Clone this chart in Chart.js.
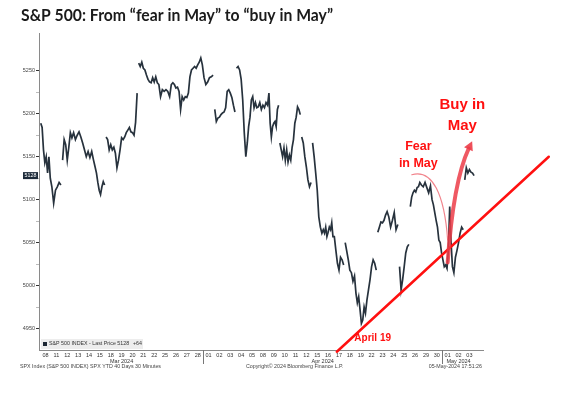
<!DOCTYPE html>
<html>
<head>
<meta charset="utf-8">
<script src="https://cdn.jsdelivr.net/npm/chart.js@4.4.1/dist/chart.umd.min.js"></script>
<style>
    html, body { margin: 0; padding: 0; background: #fff; }
    #wrap { width: 588px; height: 395px; position: relative; }
</style>
</head>
<body>
<div id="wrap"><canvas id="graficoSpx"></canvas></div>
<script>
// Dados
const titulo = 'S&P 500: From \u201cfear in May\u201d to \u201cbuy in May\u201d';
const dayLabels = ['08', '11', '12', '13', '14', '15', '18', '19', '20', '21', '22', '25', '26', '27', '28',
    '01', '02', '03', '04', '05', '08', '09', '10', '11', '12', '15', '16', '17', '18', '19', '22', '23', '24', '25', '26', '29', '30',
    '01', '02', '03'];
const monthLabels = ['Mar 2024', 'Apr 2024', 'May 2024'];
const monthStarts = [0, 15, 37];
const yTicks = [4950, 5000, 5050, 5100, 5150, 5200, 5250];
const lastPrice = 5128;
const lastChange = '+64';

// preços de 30 min, um array por dia
const dayPrices = [
    [5189, 5184, 5158, 5143, 5150, 5131, 5150, 5125],
    [5115, 5096, 5111, 5115, 5120, 5117],
    [5146, 5170, 5164, 5146, 5161, 5178, 5172],
    [5178, 5170, 5175, 5179, 5173, 5166],
    [5158, 5150, 5156, 5149, 5156, 5146],
    [5138, 5131, 5120, 5111, 5106, 5115, 5121, 5117],
    [5173, 5170, 5158, 5164, 5158, 5161, 5154],
    [5137, 5146, 5158, 5172, 5170, 5173, 5178],
    [5181, 5184, 5179, 5178, 5175, 5190, 5224],
    [5259, 5255, 5260, 5253, 5251, 5245, 5240],
    [5237, 5236, 5242, 5237, 5243, 5236, 5234],
    [5220, 5228, 5226, 5228, 5226, 5220],
    [5234, 5236, 5234, 5230, 5231, 5226, 5205],
    [5220, 5216, 5220, 5219, 5224, 5243, 5251],
    [5253, 5255, 5253, 5257, 5260, 5265, 5257],
    [5242, 5234, 5237, 5242, 5243, 5245],
    [5205, 5191, 5195, 5196, 5199, 5201, 5202],
    [5207, 5226, 5228, 5224, 5219, 5210, 5202],
    [5253, 5255, 5251, 5240, 5216, 5178, 5150],
    [5166, 5185, 5196, 5216, 5220, 5207, 5213, 5207],
    [5208, 5213, 5205, 5210, 5207, 5213, 5210],
    [5224, 5189, 5173, 5185, 5189, 5191, 5185, 5205, 5210],
    [5166, 5158, 5150, 5160, 5146, 5158, 5144, 5152],
    [5146, 5161, 5170, 5189, 5196, 5208, 5205, 5199],
    [5173, 5166, 5150, 5138, 5123, 5115, 5120],
    [5166, 5150, 5131, 5111, 5080, 5068, 5061],
    [5065, 5061, 5068, 5057, 5062, 5068, 5065, 5073, 5057],
    [5057, 5041, 5026, 5018, 5033, 5030, 5024],
    [5050, 5040, 5030, 5018, 5015, 5005, 5011],
    [4991, 4980, 4987, 4972, 4956, 4960, 4975, 4968],
    [4983, 4995, 5007, 5022, 5030, 5026, 5018],
    [5062, 5068, 5074, 5073, 5076, 5082, 5086],
    [5080, 5068, 5076, 5085, 5065, 5071],
    [5022, 4995, 5007, 5022, 5038, 5045, 5048],
    [5092, 5103, 5108, 5111, 5109, 5114, 5115, 5120],
    [5117, 5115, 5120, 5114, 5108, 5116],
    [5100, 5094, 5085, 5076, 5068, 5053, 5050, 5038],
    [5030, 5022, 5024, 5020, 5041, 5092, 5050, 5022],
    [5015, 5033, 5041, 5050, 5061, 5068, 5065],
    [5123, 5137, 5131, 5135, 5132, 5131, 5128]
];

// anotações em coordenadas do gráfico (dia, preço)
const tendencia = [[27.3, 4923], [46.8, 5150]];
const curvaMedo = [[34.2, 5129], [36.1, 5136], [37.2, 5106], [37.5, 5053]];
const setaCompra = [[37.5, 5027], [37.9, 5100], [38.6, 5137], [39.75, 5168]];
const textos = [
    { t: 'April 19', x: 30.6, y: 4935, size: 10 },
    { t: 'Fear', x: 34.8, y: 5158, size: 12.5 },
    { t: 'in May', x: 34.8, y: 5138, size: 12.5 },
    { t: 'Buy in', x: 38.85, y: 5205, size: 15 },
    { t: 'May', x: 38.85, y: 5181, size: 15 }
];

const pontos = [];
dayPrices.forEach((dia, i) => {
    dia.forEach((v, j) => pontos.push({ x: i + (j + 0.5) / dia.length, y: v }));
});

const yTicksAll = [];
yTicks.forEach((v, i) => {
    yTicksAll.push(v);
    if (i < yTicks.length - 1) yTicksAll.push(v + 25);
});

const fontePequena = '"Liberation Sans", Arial, sans-serif';

const anotacoes = {
    id: 'anotacoes',
    afterDraw(chart) {
        const { ctx, scales: { x, y }, chartArea: ca } = chart;
        const px = v => x.getPixelForValue(v);
        const py = v => y.getPixelForValue(v);
        ctx.save();

        // título
        ctx.font = 'bold 17px Lato';
        ctx.textAlign = 'left';
        ctx.textBaseline = 'alphabetic';
        const w = ctx.measureText(titulo).width;
        ctx.save();
        ctx.translate(21, 21);
        ctx.scale(312 / w, 1);
        ctx.fillStyle = '#1b1b1b';
        ctx.fillText(titulo, 0, 0);
        ctx.restore();

        // meses e separadores
        ctx.font = '5.5px ' + fontePequena;
        ctx.fillStyle = '#333';
        ctx.textAlign = 'center';
        ctx.textBaseline = 'middle';
        ctx.strokeStyle = '#777';
        ctx.lineWidth = 1;
        monthStarts.forEach((ini, k) => {
            const fim = k + 1 < monthStarts.length ? monthStarts[k + 1] : dayLabels.length;
            ctx.fillText(monthLabels[k], px((ini + fim) / 2), ca.bottom + 11);
            if (k > 0) {
                const sx = Math.round(px(ini)) + 0.5;
                ctx.beginPath();
                ctx.moveTo(sx, ca.bottom);
                ctx.lineTo(sx, ca.bottom + 14);
                ctx.stroke();
            }
        });

        // rodapé
        ctx.font = '5.3px ' + fontePequena;
        ctx.fillStyle = '#444';
        ctx.textAlign = 'left';
        ctx.fillText('SPX Index (S&P 500 INDEX) SPX YTD 40 Days 30 Minutes', 20, ca.bottom + 17);
        ctx.fillText('Copyright\u00a9 2024 Bloomberg Finance L.P.', 246, ca.bottom + 17);
        ctx.textAlign = 'right';
        ctx.fillText('05-May-2024 17:51:26', ca.right - 1, ca.bottom + 17);

        // legenda
        ctx.fillStyle = '#ededed';
        ctx.fillRect(ca.left + 2, ca.bottom - 11, 102, 10);
        ctx.fillStyle = '#1c2733';
        ctx.fillRect(ca.left + 4, ca.bottom - 8, 4, 4);
        ctx.fillStyle = '#333';
        ctx.textAlign = 'left';
        ctx.font = '5.3px ' + fontePequena;
        ctx.fillText('S&P 500 INDEX - Last Price ' + lastPrice, ca.left + 10, ca.bottom - 6);
        ctx.fillText(lastChange, ca.left + 94, ca.bottom - 6);

        // etiqueta do último preço
        const ly = py(lastPrice);
        ctx.fillStyle = '#1d2b3a';
        ctx.fillRect(23, ly - 3.5, 15, 7);
        ctx.fillStyle = '#fff';
        ctx.textAlign = 'center';
        ctx.fillText(String(lastPrice), 30.5, ly + 0.3);

        // linha de tendência
        ctx.strokeStyle = '#ff1010';
        ctx.lineWidth = 2.5;
        ctx.lineCap = 'round';
        ctx.beginPath();
        ctx.moveTo(px(tendencia[0][0]), py(tendencia[0][1]));
        ctx.lineTo(px(tendencia[1][0]), py(tendencia[1][1]));
        ctx.stroke();

        // curva "fear in May"
        const c = curvaMedo.map(p => [px(p[0]), py(p[1])]);
        ctx.strokeStyle = 'rgba(238, 110, 120, 0.85)';
        ctx.lineWidth = 1.2;
        ctx.beginPath();
        ctx.moveTo(c[0][0], c[0][1]);
        ctx.bezierCurveTo(c[1][0], c[1][1], c[2][0], c[2][1], c[3][0], c[3][1]);
        ctx.stroke();

        // seta "buy in May"
        const s = setaCompra.map(p => [px(p[0]), py(p[1])]);
        const ang = Math.atan2(s[3][1] - s[2][1], s[3][0] - s[2][0]);
        const cab = 10;
        const bx = s[3][0] - Math.cos(ang) * cab * 0.8;
        const by = s[3][1] - Math.sin(ang) * cab * 0.8;
        ctx.strokeStyle = 'rgba(236, 60, 72, 0.85)';
        ctx.lineWidth = 4;
        ctx.lineCap = 'round';
        ctx.beginPath();
        ctx.moveTo(s[0][0], s[0][1]);
        ctx.bezierCurveTo(s[1][0], s[1][1], s[2][0], s[2][1], bx, by);
        ctx.stroke();
        ctx.fillStyle = 'rgba(236, 60, 72, 0.9)';
        ctx.beginPath();
        ctx.moveTo(s[3][0], s[3][1]);
        ctx.lineTo(s[3][0] - Math.cos(ang - 0.5) * cab, s[3][1] - Math.sin(ang - 0.5) * cab);
        ctx.lineTo(s[3][0] - Math.cos(ang + 0.5) * cab, s[3][1] - Math.sin(ang + 0.5) * cab);
        ctx.closePath();
        ctx.fill();

        // textos vermelhos
        ctx.fillStyle = '#ff1010';
        ctx.textAlign = 'center';
        ctx.textBaseline = 'alphabetic';
        textos.forEach(tx => {
            ctx.font = 'bold ' + tx.size + 'px "Liberation Sans", Arial, sans-serif';
            ctx.fillText(tx.t, px(tx.x), py(tx.y));
        });

        ctx.restore();
    }
};

new Chart(document.getElementById('graficoSpx'), {
    type: 'line',
    data: {
        datasets: [{
            label: 'S&P 500 INDEX',
            data: pontos,
            borderColor: '#27323d',
            borderWidth: 1.7,
            pointRadius: 0,
            tension: 0,
            segment: {
                // gaps de abertura grandes não são ligados (como no candlestick)
                borderColor: c => (Math.floor(c.p0.parsed.x) !== Math.floor(c.p1.parsed.x) &&
                    Math.abs(c.p1.parsed.y - c.p0.parsed.y) > 25) ? 'rgba(0,0,0,0)' : undefined
            }
        }]
    },
    options: {
        responsive: true,
        maintainAspectRatio: false,
        animation: false,
        layout: { padding: { top: 33, right: 105, left: 0, bottom: 0 } },
        plugins: {
            legend: { display: false },
            title: { display: false },
            tooltip: { enabled: false }
        },
        scales: {
            x: {
                type: 'linear',
                min: -0.1,
                max: 40.75,
                afterBuildTicks: s => { s.ticks = dayLabels.map((d, i) => ({ value: i + 0.5 })); },
                afterFit: s => { s.height = 45; },
                ticks: {
                    autoSkip: false,
                    maxRotation: 0,
                    padding: 2,
                    color: '#333',
                    font: { size: 5.5, family: fontePequena },
                    callback: (v, i) => dayLabels[i]
                },
                grid: { display: false, drawTicks: false },
                border: { display: true, color: '#8a8a8a', width: 1 }
            },
            y: {
                min: 4925,
                max: 5294,
                afterBuildTicks: s => { s.ticks = yTicksAll.map(v => ({ value: v })); },
                afterFit: s => { s.width = 39; },
                ticks: {
                    autoSkip: false,
                    padding: 1,
                    color: '#444',
                    font: { size: 5.5, family: fontePequena },
                    callback: v => yTicks.includes(v) ? String(v) : ''
                },
                grid: {
                    drawOnChartArea: false,
                    tickLength: 3,
                    tickColor: c => (c.tick && yTicks.includes(c.tick.value)) ? '#333' : '#bbb'
                },
                border: { display: true, color: '#8a8a8a', width: 1 }
            }
        }
    },
    plugins: [anotacoes]
});
</script>
</body>
</html>
